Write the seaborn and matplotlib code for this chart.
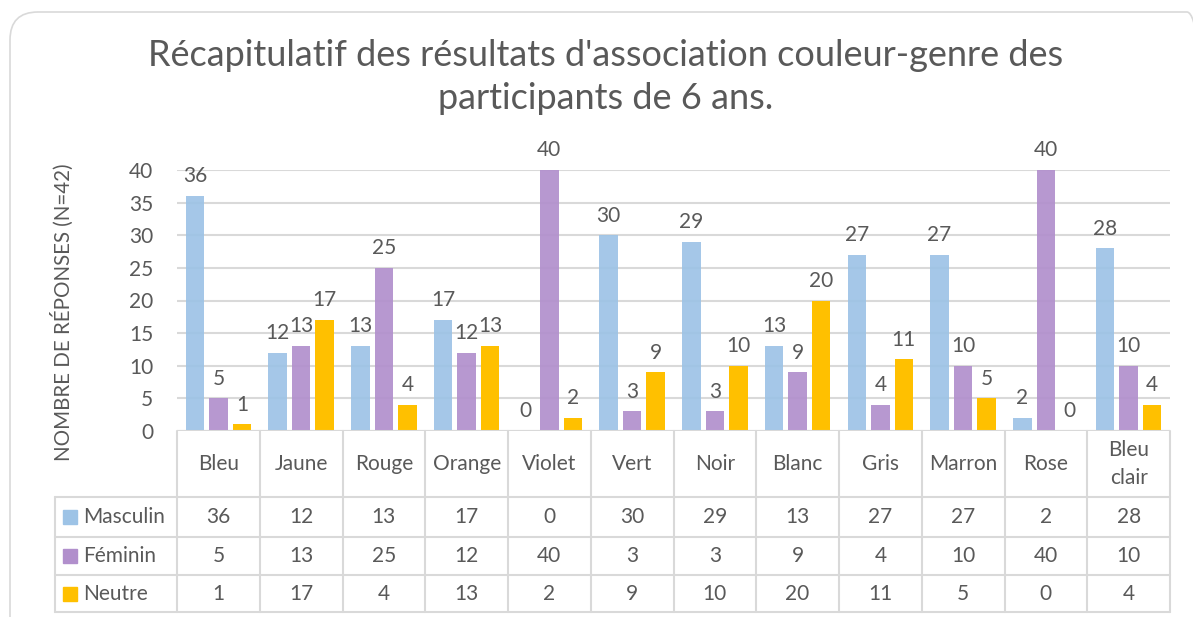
import matplotlib
matplotlib.use('Agg')
import matplotlib.pyplot as plt
import pandas as pd
import seaborn as sns
from matplotlib.patches import FancyBboxPatch, Rectangle

couleurs = ['Bleu', 'Jaune', 'Rouge', 'Orange', 'Violet', 'Vert', 'Noir',
            'Blanc', 'Gris', 'Marron', 'Rose', 'Bleu\nclair']
masculin = [36, 12, 13, 17, 0, 30, 29, 13, 27, 27, 2, 28]
feminin = [5, 13, 25, 12, 40, 3, 3, 9, 4, 10, 40, 10]
neutre = [1, 17, 4, 13, 2, 9, 10, 20, 11, 5, 0, 4]
genres = ['Masculin', 'Féminin', 'Neutre']
palette = ['#9DC3E6', '#B18FCC', '#FFC000']

GREY = '#595959'
W, H = 1193, 617

sns.set_style('white')
plt.rcParams['font.family'] = ['Lato', 'DejaVu Sans']

df = pd.DataFrame({'couleur': couleurs * 3,
                   'genre': sum([[g] * len(couleurs) for g in genres], []),
                   'n': masculin + feminin + neutre})

fig = plt.figure(figsize=(W / 100, H / 100), dpi=100)

# rounded chart frame
fig.patches.append(FancyBboxPatch((10, -40), 1205, H - 12 + 40,
                                  boxstyle='round,pad=0,rounding_size=28',
                                  transform=None, fc='none', ec='#D9D9D9',
                                  lw=1.2, zorder=-1))

cat_w = (1170 - 177) / 12
ax = fig.add_axes([177 / W, 1 - 431 / H, 993 / W, 261 / H])
ax.patch.set_alpha(0)
sns.barplot(data=df, x='couleur', y='n', hue='genre', hue_order=genres,
            palette=palette, width=0.852, gap=0.21, saturation=1,
            legend=False, ax=ax, zorder=3)
for cont, a in zip(ax.containers, [0.92, 0.92, 1.0]):
    for p in cont:
        p.set_alpha(a)
        p.set_linewidth(0)
    ax.bar_label(cont, padding=7, fontsize=15, color=GREY, clip_on=False)

ax.set_ylim(0, 40)
ax.set_xlim(-0.5, 11.5)
ax.set_yticks(range(0, 41, 5))
ax.yaxis.grid(True, color='#D9D9D9', lw=1.5, zorder=0)
ax.set_axisbelow(True)
ax.tick_params(axis='y', labelsize=15, labelcolor=GREY, length=0, pad=17)
ax.tick_params(axis='x', bottom=False, labelbottom=False)
ax.set_xlabel('')
ax.set_ylabel('NOMBRE DE RÉPONSES (N=42)', fontsize=14.8, color=GREY)
ax.yaxis.label.set_va('center')
ax.yaxis.set_label_coords((62 - 177) / 993, (431 - 312) / 261)
sns.despine(ax=ax, left=True, bottom=True)
ax.axhline(0, color='#D9D9D9', lw=1.5, zorder=4)

# data table below the bars
extra = (177 - 55) / cat_w
tab = fig.add_axes([55 / W, 1 - 612 / H, 1115 / W, 181 / H])
tab.set_xlim(-0.5 - extra, 11.5)
tab.set_ylim(181, 0)
tab.axis('off')
lc = '#D9D9D9'
rows_y = [66, 106, 144, 181]
for y in rows_y:
    tab.plot([-0.5 - extra, 11.5], [y, y], color=lc, lw=1.5, clip_on=False)
for i in range(13):
    tab.plot([i - 0.5, i - 0.5], [0, 181], color=lc, lw=1.5, clip_on=False)
tab.plot([-0.5 - extra] * 2, [66, 181], color=lc, lw=1.5, clip_on=False)

for i, c in enumerate(couleurs):
    tab.text(i, 33, c, ha='center', va='center', fontsize=15, color=GREY,
             linespacing=1.5)

for r, (g, vals, col) in enumerate(zip(genres, [masculin, feminin, neutre], palette)):
    yc = (rows_y[r] + rows_y[r + 1]) / 2
    x0 = -0.5 - extra + 8 / cat_w
    tab.add_patch(Rectangle((x0, yc - 7), 14 / cat_w, 14, color=col, clip_on=False))
    tab.text(x0 + 20 / cat_w, yc, g, ha='left', va='center', fontsize=15, color=GREY)
    for i, v in enumerate(vals):
        tab.text(i, yc, str(v), ha='center', va='center', fontsize=15, color=GREY)

fig.text(0.508, 1 - 77 / H,
         "Récapitulatif des résultats d'association couleur-genre des\nparticipants de 6 ans.",
         ha='center', va='center', fontsize=26, color=GREY, linespacing=1.35)

fig.savefig('out.png', dpi=100)
